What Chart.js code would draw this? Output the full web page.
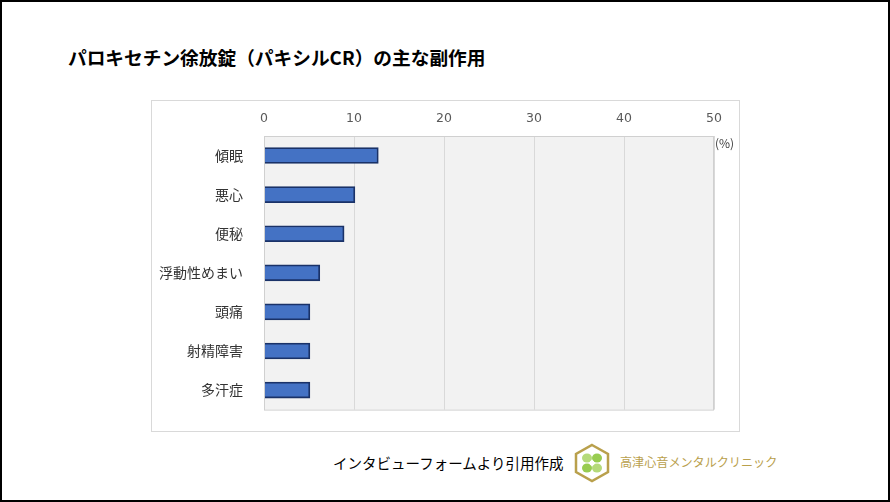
<!DOCTYPE html>
<html>
<head>
<meta charset="utf-8">
<script src="https://cdn.jsdelivr.net/npm/chart.js@4"></script>
<style>
  body{margin:0;background:#fff;font-family:"Noto Sans CJK JP",sans-serif;}
  #frame{position:relative;width:886px;height:498px;border:2px solid #000;overflow:hidden;}
  #title{position:absolute;left:66px;top:41px;font-size:18.7px;font-weight:bold;color:#000;white-space:nowrap;}
  #box{position:absolute;left:149px;top:98px;width:587px;height:330px;border:1px solid #d9d9d9;background:#fff;}
  #unit{position:absolute;left:713px;top:132px;font-size:12px;color:#404040;}
  #src{position:absolute;left:331px;top:450px;font-size:14.5px;color:#000;white-space:nowrap;}
  #logo{position:absolute;left:571px;top:441px;}
  #clinic{position:absolute;left:618px;top:451px;font-size:12.1px;color:#b9a04c;white-space:nowrap;}
</style>
</head>
<body>
<div id="frame">
  <div id="title">パロキセチン徐放錠（パキシルCR）の主な副作用</div>
  <div id="box"><canvas id="graf" width="587" height="330"></canvas></div>
  <div id="unit">(%)</div>
  <div id="src">インタビューフォームより引用作成</div>
  <svg id="logo" width="38" height="40" viewBox="0 0 38 40">
    <polygon points="19,2 35,11 35,29 19,38 3,29 3,11" fill="#fff" stroke="#b9a04c" stroke-width="2.5"/>
    <ellipse cx="14" cy="15" rx="5" ry="4.5" fill="#b5da7a"/>
    <ellipse cx="24" cy="15" rx="5" ry="4.5" fill="#98cc50"/>
    <ellipse cx="14" cy="25" rx="5" ry="4.5" fill="#98cc50"/>
    <ellipse cx="24" cy="25" rx="5" ry="4.5" fill="#b5da7a"/>
    <circle cx="19" cy="20" r="2.5" fill="#fff"/>
  </svg>
  <div id="clinic">高津心音メンタルクリニック</div>
</div>
<script>
// 副作用データ（%）
const sintomas = ['傾眠','悪心','便秘','浮動性めまい','頭痛','射精障害','多汗症'];
const valores = [12.7, 10.1, 8.9, 6.2, 5.1, 5.1, 5.1];
const ticksX = [0,10,20,30,40,50];

// fundo cinza da área do gráfico + contorno
const fundoPlot = {
  id:'fundoPlot',
  beforeDraw(chart){
    const {ctx, chartArea:a} = chart;
    ctx.save();
    ctx.fillStyle = '#f2f2f2';
    ctx.fillRect(a.left, a.top, a.right-a.left, a.bottom-a.top);
    ctx.restore();
  },
  afterDatasetsDraw(chart){
    const {ctx, chartArea:a} = chart;
    ctx.save();
    ctx.strokeStyle = '#d0d0d0';
    ctx.lineWidth = 1;
    ctx.strokeRect(a.left+0.5, a.top+0.5, a.right-a.left-1, a.bottom-a.top);
    ctx.restore();
  }
};

new Chart(document.getElementById('graf').getContext('2d'), {
  type:'bar',
  data:{
    labels: sintomas,
    datasets:[{
      data: valores,
      backgroundColor:'#4472c4',
      borderColor:'#1a3268',
      borderWidth:1.8,
      barThickness:16
    }]
  },
  options:{
    indexAxis:'y',
    responsive:false,
    animation:false,
    layout:{autoPadding:false, padding:{left:0,right:25,top:0,bottom:18}},
    plugins:{legend:{display:false}, tooltip:{enabled:false}},
    scales:{
      x:{
        position:'top',
        min:ticksX[0], max:ticksX[ticksX.length-1],
        afterBuildTicks: s => { s.ticks = ticksX.map(v=>({value:v})); },
        afterFit: s => { s.height = 35; },
        grid:{color:'#d9d9d9', drawTicks:false},
        border:{display:false},
        ticks:{padding:10, color:'#595959', font:{family:'DejaVu Sans', size:12.5}}
      },
      y:{
        afterFit: s => { s.width = 112; },
        grid:{display:false},
        border:{display:false},
        ticks:{padding:13, color:'#333333', font:{family:'Noto Sans CJK JP', size:14}}
      }
    }
  },
  plugins:[fundoPlot]
});
</script>
</body>
</html>
